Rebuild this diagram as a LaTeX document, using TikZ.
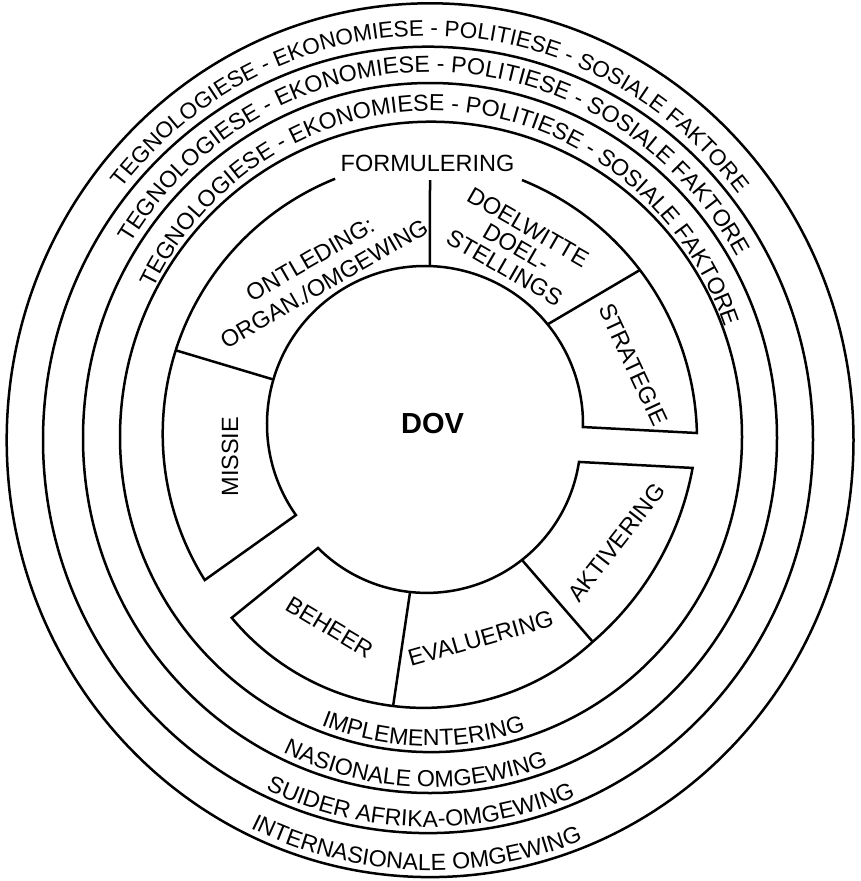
\documentclass[tikz,border=0pt]{standalone}
\usepackage{fontspec}
\setmainfont{Liberation Sans}
\usetikzlibrary{calc,decorations.text}
\newcommand\rowfont{\fontsize{23.2}{26}\selectfont}
\newcommand\rowfontA{\fontsize{22.5}{26}\selectfont}
\newcommand\lblfont{\fontsize{23.5}{28}\selectfont}
\begin{document}
\begin{tikzpicture}[x=1pt,y=1pt,line width=2.5pt,
  lbl/.style={inner sep=0pt,font=\lblfont,align=center},
  ringtext/.style={decorate,decoration={text along path,text align=center,text={#1}}}]
\useasboundingbox (0,0) rectangle (861,-881);

% centres of the four environment rings
\coordinate (E1) at (430.1,-440.2);
\coordinate (E2) at (428,-439.9);
\coordinate (E3) at (430,-438);
\coordinate (E4) at (431,-436.9);

% centres of the arcs that bound the process segments
\coordinate (CUL) at (437.7,-433.9);
\coordinate (CUR) at (417.6,-439.2);
\coordinate (CIU) at (425,-424);
\coordinate (CIL) at (426.7,-438.9);
\coordinate (CAK) at (397.5,-414);
\coordinate (CBE) at (423.9,-458.7);

% environment rings
\draw (E1) ellipse [x radius=423.4, y radius=436.9];
\draw (E2) ellipse [x radius=385, y radius=393.2];
\draw (E3) ellipse [x radius=347, y radius=355];
\draw (E4) ellipse [x radius=311, y radius=315.2];

% factor texts over the top of the rings
\path[ringtext={|\rowfontA|TEGNOLOGIESE - EKONOMIESE - POLITIESE - SOSIALE FAKTORE}]
  ($(E2)+(164.5:391 and 404)$) arc[start angle=164.5,end angle=14.5,x radius=391,y radius=404];
\path[ringtext={|\rowfont|TEGNOLOGIESE - EKONOMIESE - POLITIESE - SOSIALE FAKTORE}]
  ($(E3)+(163.8:353 and 366)$) arc[start angle=163.8,end angle=13.8,x radius=353,y radius=366];
\path[ringtext={|\rowfont|TEGNOLOGIESE - EKONOMIESE - POLITIESE - SOSIALE FAKTORE}]
  ($(E4)+(161.3:312 and 326)$) arc[start angle=161.3,end angle=11.3,x radius=312,y radius=326];

% environment names along the bottom of the rings
\path[ringtext={|\rowfont|IMPLEMENTERING}]
  ($(E4)+(-151.5:305 and 309)$) arc[start angle=-151.5,end angle=-31.5,x radius=305,y radius=309];
\path[ringtext={|\rowfont|NASIONALE OMGEWING}]
  ($(E3)+(-152.6:341 and 349)$) arc[start angle=-152.6,end angle=-32.6,x radius=341,y radius=349];
\path[ringtext={|\rowfont|SUIDER AFRIKA-OMGEWING}]
  ($(E2)+(-151.2:379 and 387)$) arc[start angle=-151.2,end angle=-31.2,x radius=379,y radius=387];
\path[ringtext={|\rowfont|INTERNASIONALE OMGEWING}]
  ($(E1)+(-152:416.5 and 430)$) arc[start angle=-152,end angle=-32,x radius=416.5,y radius=430];

% formulation segments (open at the top for the heading)
\draw ($(CUL)+(111.9:275)$) arc[start angle=111.9,end angle=212.1,radius=275]
  -- ($(CIU)+(215.2:158)$) arc[start angle=215.2,end angle=-1.1,radius=158]
  -- ($(CUR)+(1.27:279.4)$) arc[start angle=1.27,end angle=68.06,radius=279.4];
\draw ($(CUL)+(162.3:275)$) -- ($(CIU)+(163.65:158)$);
\draw (430,-180) -- ($(CIU)+(88.2:158)$);
\draw ($(CUR)+(37.27:279.4)$) -- ($(CIU)+(39.1:158)$);

% implementation segments
\draw ($(CIL)+(-134.9:154)$) arc[start angle=-134.9,end angle=-8.6,radius=154]
  -- ($(CAK)+(-10.36:300)$) arc[start angle=-10.36,end angle=-49.4,radius=300]
  arc[start angle=-47.3,end angle=-140.3,radius=249.4] -- cycle;
\draw ($(CIL)+(-51.8:154)$) -- ($(CAK)+(-49.4:300)$);
\draw ($(CIL)+(-96.2:154)$) -- ($(CBE)+(-97.1:249.4)$);

% labels
\node[lbl] (formulering) at (427.5,-163.5) {FORMULERING};
\node[lbl,rotate=30] (ontleding) at (317.1,-271.5) {ONTLEDING:\\ORGAN./OMGEWING};
\node[lbl,rotate=-30,font=\fontsize{23.5}{23.4}\selectfont] (doelwitte) at (516.3,-247.3) {DOELWITTE\\DOEL-\\STELLINGS};
\node[lbl,rotate=-65] (strategie) at (633.2,-364.5) {STRATEGIE};
\node[lbl,rotate=90] (missie) at (230,-456.7) {MISSIE};
\node[lbl,rotate=-31] (beheer) at (329.5,-627) {BEHEER};
\node[lbl,rotate=16] (evaluering) at (480.7,-638.5) {EVALUERING};
\node[lbl,rotate=52] (aktivering) at (616.5,-542.5) {AKTIVERING};
\node[inner sep=0pt,font=\bfseries\fontsize{29}{29}\selectfont] (dov) at (432.5,-423.5) {DOV};
\end{tikzpicture}
\end{document}
